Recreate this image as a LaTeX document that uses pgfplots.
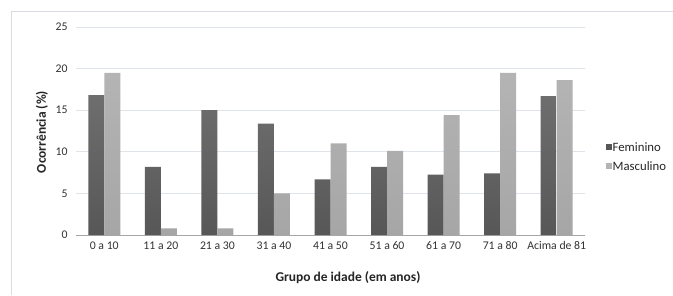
\documentclass[border=0pt]{standalone}
\usepackage{pgfplots}
\pgfplotsset{compat=1.18}
\usepackage{fontspec}
\setmainfont{Carlito}
\definecolor{gridc}{HTML}{DFE3EA}
\definecolor{framec}{HTML}{D9DDE3}
\definecolor{femtop}{HTML}{6E6E6E}
\definecolor{fembot}{HTML}{575757}
\definecolor{mastop}{HTML}{B4B4B4}
\definecolor{masbot}{HTML}{A6A6A6}
\begin{document}
\begin{tikzpicture}[x=1bp,y=1bp]
\path[use as bounding box] (0,0) rectangle (673,295);
\fill[white] (0,0) rectangle (673,295);
\draw[framec, line width=0.8bp] (11,0) -- (11,284) -- (673,284);
\begin{axis}[
  at={(76bp,60bp)}, anchor=south west,
  scale only axis, width=509bp, height=208bp,
  xmin=-0.5, xmax=8.5, ymin=0, ymax=25,
  ytick={0,5,10,15,20,25},
  xtick={0,1,2,3,4,5,6,7,8},
  xticklabels={0 a 10,11 a 20,21 a 30,31 a 40,41 a 50,51 a 60,61 a 70,71 a 80,Acima de 81},
  major tick length=0pt,
  axis line style={draw=none},
  ymajorgrids, grid style={gridc, line width=0.8bp},
  tick label style={font=\fontsize{11.8}{13}\selectfont, text=black!80},
  /pgf/number format/assume math mode=true,
  yticklabel style={xshift=-5bp},
  xticklabel style={yshift=-3bp},
  clip=false,
]
\draw[gray!70, line width=0.8bp] (axis cs:-0.5,0) -- (axis cs:8.5,0);
\addplot[ybar, bar width=0.283, bar shift=-0.1415, draw=none, top color=femtop, bottom color=fembot]
 coordinates {(0,16.8) (1,8.2) (2,15.0) (3,13.4) (4,6.7) (5,8.2) (6,7.25) (7,7.4) (8,16.7)};
\addplot[ybar, bar width=0.283, bar shift=0.1415, draw=none, top color=mastop, bottom color=masbot]
 coordinates {(0,19.5) (1,0.8) (2,0.8) (3,5.0) (4,11.0) (5,10.1) (6,14.4) (7,19.5) (8,18.6)};
\end{axis}
\node[rotate=90, font=\bfseries\fontsize{13.5}{15}\selectfont, text=black!85] at (42,163) {Ocorrência (\%)};
\node[font=\bfseries\fontsize{13.5}{15}\selectfont, text=black!85] at (348,17) {Grupo de idade (em anos)};
\fill[fembot] (606,145.5) rectangle (611.5,151);
\node[anchor=west, font=\fontsize{12.8}{14}\selectfont, text=black!85, inner sep=0pt] at (612.5,148) {Feminino};
\fill[mastop] (606,126.5) rectangle (611.5,132);
\node[anchor=west, font=\fontsize{12.8}{14}\selectfont, text=black!85, inner sep=0pt] at (612.5,129) {Masculino};
\end{tikzpicture}
\end{document}
